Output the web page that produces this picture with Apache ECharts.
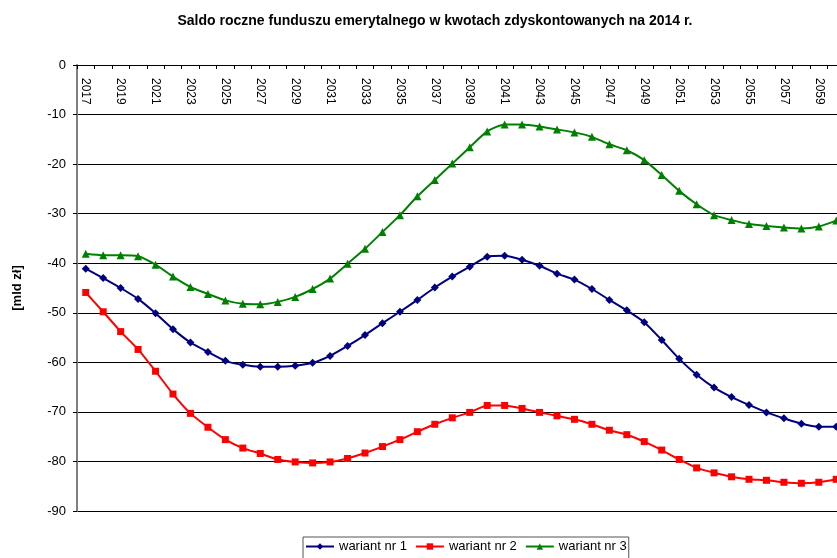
<!DOCTYPE html>
<html>
<head>
<meta charset="utf-8">
<script src="https://cdn.jsdelivr.net/npm/echarts@6/dist/echarts.min.js"></script>
<style>
  html, body { margin: 0; padding: 0; background: #fff; overflow: hidden; }
  /* chart is a bit wider than the window: the plot is cut at the right edge */
  #chart { width: 845px; height: 558px; }
</style>
</head>
<body>
<div id="chart"></div>
<script>
  // lata 2017-2060
  var years = [];
  for (var y = 2017; y <= 2060; y++) { years.push(String(y)); }

  var wariant1 = [-41.1, -43.0, -45.0, -47.2, -50.1, -53.3, -56.0, -57.9, -59.7, -60.5,
    -60.9, -60.9, -60.7, -60.1, -58.7, -56.7, -54.5, -52.1, -49.8, -47.4,
    -44.9, -42.7, -40.7, -38.7, -38.5, -39.3, -40.5, -42.1, -43.3, -45.2,
    -47.4, -49.5, -51.9, -55.5, -59.3, -62.5, -65.1, -67.0, -68.6, -70.1,
    -71.3, -72.4, -73.0, -73.0];
  var wariant2 = [-45.9, -49.8, -53.8, -57.4, -61.8, -66.4, -70.3, -73.1, -75.6, -77.3,
    -78.4, -79.6, -80.1, -80.3, -80.1, -79.4, -78.3, -77.0, -75.6, -74.0,
    -72.5, -71.2, -70.1, -68.7, -68.7, -69.3, -70.1, -70.8, -71.5, -72.5,
    -73.7, -74.6, -76.0, -77.7, -79.6, -81.3, -82.3, -83.1, -83.6, -83.8,
    -84.2, -84.4, -84.2, -83.6];
  var wariant3 = [-38.1, -38.4, -38.4, -38.6, -40.3, -42.7, -44.8, -46.2, -47.5, -48.2,
    -48.3, -47.8, -46.8, -45.2, -43.1, -40.1, -37.1, -33.7, -30.3, -26.5,
    -23.2, -19.9, -16.6, -13.4, -12.0, -12.0, -12.4, -13.0, -13.6, -14.5,
    -16.0, -17.2, -19.2, -22.2, -25.4, -28.1, -30.3, -31.3, -32.1, -32.5,
    -32.8, -33.0, -32.6, -31.4];

  var seriesNames = ['wariant nr 1', 'wariant nr 2', 'wariant nr 3'];
  var seriesData = [wariant1, wariant2, wariant3];
  var colors = ['#000080', '#ff0000', '#008000'];
  var symbols = ['diamond', 'rect', 'triangle'];
  var symbolSizes = [8, 7, 8];

  var myChart = echarts.init(document.getElementById('chart'));
  var font = 'Liberation Sans, Arial, sans-serif';

  var series = [];
  for (var i = 0; i < seriesData.length; i++) {
    series.push({
      name: seriesNames[i],
      type: 'line',
      data: seriesData[i],
      symbol: symbols[i],
      symbolSize: symbolSizes[i],
      showAllSymbol: true,
      smooth: 0.2,
      color: colors[i],
      lineStyle: { width: 2, color: colors[i] },
      itemStyle: { color: colors[i] }
    });
  }

  var option = {
    animation: false,
    textStyle: { fontFamily: font },
    title: {
      text: 'Saldo roczne funduszu emerytalnego w kwotach zdyskontowanych na 2014 r.',
      left: 430,
      textAlign: 'center',
      top: 9,
      textStyle: { fontSize: 14, fontWeight: 'bold', color: '#000', fontFamily: font }
    },
    legend: {
      left: 303,
      top: 537,
      data: seriesNames,
      itemWidth: 28,
      itemHeight: 8,
      itemGap: 8,
      padding: [3, 2, 6, 2],
      borderColor: '#555',
      borderWidth: 1,
      borderRadius: 0,
      textStyle: { fontSize: 13, color: '#000', fontFamily: font }
    },
    grid: { left: 77, top: 65, bottom: 47, right: 0, containLabel: false },
    xAxis: {
      type: 'category',
      position: 'top',
      data: years,
      boundaryGap: true,
      axisLine: { show: true, onZero: false, lineStyle: { color: '#000', width: 1 } },
      axisTick: { show: true, inside: true, length: 4, interval: 0, lineStyle: { color: '#000' } },
      axisLabel: {
        inside: true,
        rotate: 90,
        interval: 1,
        margin: 13,
        fontSize: 12,
        color: '#000',
        fontFamily: font
      },
      splitLine: { show: false }
    },
    yAxis: {
      type: 'value',
      min: -90,
      max: 0,
      interval: 10,
      name: '[mld zł]',
      nameLocation: 'middle',
      nameGap: 53,
      nameRotate: 90,
      nameTextStyle: { fontSize: 13, fontWeight: 'bold', color: '#000', fontFamily: font },
      axisLine: { show: true, lineStyle: { color: '#808080', width: 2 } },
      axisTick: { show: true, length: 4, lineStyle: { color: '#000' } },
      axisLabel: { fontSize: 13, color: '#000', margin: 11, fontFamily: font },
      splitLine: { show: true, lineStyle: { color: '#000', width: 1 } }
    },
    series: series
  };

  myChart.setOption(option);
</script>
</body>
</html>
